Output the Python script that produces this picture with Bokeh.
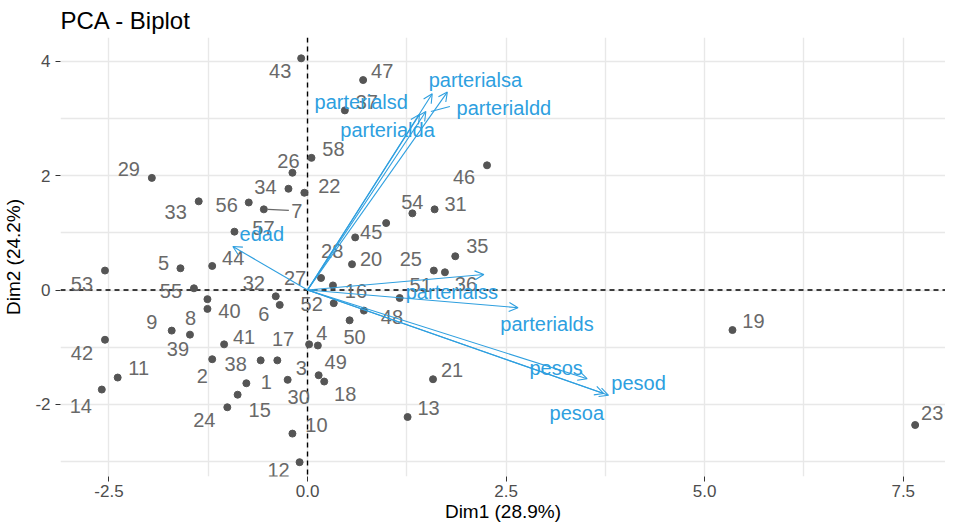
from bokeh.plotting import figure
from bokeh.models import (ColumnDataSource, Arrow, OpenHead, Span, FixedTicker,
                          PrintfTickFormatter, Range1d)
from bokeh.core.properties import value
from bokeh.embed import file_html
from bokeh.resources import INLINE

# ---------------- data ----------------
ind_labels = [str(i) for i in range(1, 59)]
ind_dim1 = [-0.77, -1.20, -0.38, 0.13, -1.60, -0.35, -0.55, -1.26, -1.71, -0.19,
            -2.39, -0.10, 1.26, -2.59, -0.88, 0.32, 0.02, 0.21, 5.35, 0.56,
            1.58, -0.04, 7.65, -1.01, 1.59, -0.19, 0.17, 0.60, -1.96, -0.25,
            1.60, -0.40, -1.37, -0.24, 1.86, 1.73, 0.47, -0.59, -1.48, -1.26,
            -1.05, -2.55, -0.08, -1.20, 0.99, 2.26, 0.70, 0.71, 0.14, 0.53,
            1.16, 0.33, -2.55, 1.32, -1.43, -0.74, -0.92, 0.05]
ind_dim2 = [-1.63, -1.21, -1.23, -0.97, 0.38, -0.26, 1.41, -0.16, -0.71, -2.51,
            -1.53, -3.01, -2.22, -1.74, -1.83, 0.08, -0.95, -1.60, -0.70, 0.45,
            -1.56, 1.70, -2.36, -2.05, 0.34, 2.05, 0.21, 0.92, 1.96, -1.57,
            1.41, -0.11, 1.55, 1.77, 0.59, 0.31, 3.14, -1.23, -0.78, -0.33,
            -0.95, -0.87, 4.05, 0.42, 1.17, 2.18, 3.67, -0.36, -1.49, -0.53,
            -0.14, -0.23, 0.34, 1.34, 0.03, 1.53, 1.02, 2.31]

var_names = ["edad", "parterialss", "parterialds", "pesos", "pesod", "pesoa",
             "parterialsa", "parterialsd", "parterialda", "parterialdd"]
var_dim1 = [-0.94, 2.22, 2.65, 3.52, 3.79, 3.73, 1.76, 1.57, 1.41, 1.49]
var_dim2 = [0.76, 0.27, -0.31, -1.55, -1.84, -1.81, 3.46, 3.43, 3.07, 3.12]

x_ticks = [-2.5, 0.0, 2.5, 5.0, 7.5]
y_ticks = [-2, 0, 2, 4]

# ---------------- label placement (screen px, repel-like) ----------------
ind_lab_dx = [20, -10, 24, 4, -17, -16, 33, -17, -20, 24,
              21, -21, 21, -21, 22, 23, -26, 21, 21, 19,
              19, 25, 17, -23, -23, -4, -26, -23, -23, 11,
              21, -22, -23, -23, 22, 21, 22, -25, -12, 22,
              20, -23, -21, 21, -15, -23, 19, 28, 17, 5,
              21, -22, -23, 0, -23, -22, 29, 22]
ind_lab_dy = [-1, 17, 8, -12, -5, 9, 2, 19, -9, -9,
              -10, 8, -9, 16, 15, 6, -5, 12, -9, -5,
              -9, -7, -12, 13, -12, -12, 0, 14, -9, 17,
              -5, -13, 11, -2, -10, 12, -8, 4, 14, 2,
              -7, 13, 13, -8, 9, 12, -9, 6, -13, 17,
              -13, 1, 13, -11, 3, 3, -4, -9]
var_lab_dx = [29, -32, 29, -31, 30, -27, 28, -71, -32, 78]
var_lab_dy = [-13, 17, 16, -11, -12, 19, -12, 8, 16, -4]

# ---------------- styling ----------------
FONT = "Liberation Sans"
BLUE = "#2E9FDF"
IND_COL = "#555555"
LAB_COL = "#696969"

X0, X1 = -3.110, 8.032
Y0, Y1 = -3.260, 4.414
FW, FH = 885, 439

p = figure(frame_width=FW, frame_height=FH, output_backend="svg",
           toolbar_location=None, x_range=Range1d(X0, X1), y_range=Range1d(Y0, Y1),
           min_border_left=52, min_border_right=0, min_border_top=35,
           min_border_bottom=40, title="PCA - Biplot")
p.outline_line_color = None
p.background_fill_color = "white"
p.border_fill_color = "white"

p.title.text_font = FONT
p.title.text_font_size = "24px"
p.title.text_font_style = "normal"
p.title.text_color = "black"
p.title.align = "left"
p.title.offset = 0
p.title.standoff = 8

p.xgrid.ticker = FixedTicker(ticks=[-2.5, -1.25, 0, 1.25, 2.5, 3.75, 5, 6.25, 7.5])
p.ygrid.ticker = FixedTicker(ticks=[-3, -2, -1, 0, 1, 2, 3, 4])
for g in (p.xgrid, p.ygrid):
    g.grid_line_color = "#e8e8e8"
    g.grid_line_width = 1.4

p.xaxis.ticker = FixedTicker(ticks=x_ticks)
p.xaxis.formatter = PrintfTickFormatter(format="%.1f")
p.yaxis.ticker = FixedTicker(ticks=y_ticks)
p.yaxis.formatter = PrintfTickFormatter(format="%d")
p.xaxis.axis_label = "Dim1 (28.9%)"
p.yaxis.axis_label = "Dim2 (24.2%)"
for ax in (p.xaxis, p.yaxis):
    ax.axis_line_color = None
    ax.major_tick_line_color = "#333333"
    ax.major_tick_out = 5
    ax.major_tick_in = 0
    ax.minor_tick_line_color = None
    ax.major_label_text_font = FONT
    ax.major_label_text_font_size = "17px"
    ax.major_label_text_color = "#4d4d4d"
    ax.axis_label_text_font = FONT
    ax.axis_label_text_font_size = "19px"
    ax.axis_label_text_font_style = "normal"
    ax.axis_label_text_color = "black"
p.xaxis.major_label_standoff = 3
p.xaxis.axis_label_standoff = 1
p.yaxis.major_label_standoff = 5
p.yaxis.axis_label_standoff = 8

# zero lines
p.add_layout(Span(location=0, dimension="height", line_color="black",
                  line_dash="5 4", line_width=1.4, level="underlay"))
p.add_layout(Span(location=0, dimension="width", line_color="black",
                  line_dash="5 4", line_width=1.4, level="underlay"))

# individuals
ind_src = ColumnDataSource(dict(x=ind_dim1, y=ind_dim2, label=ind_labels,
                                dx=ind_lab_dx, dy=ind_lab_dy))
p.scatter("x", "y", source=ind_src, size=7, color=IND_COL)

# repel segment for label "7"
sx = FW / (X1 - X0)
sy = FH / (Y1 - Y0)
i7 = ind_labels.index("7")
p.segment(x0=[ind_dim1[i7] + 4 / sx], y0=[ind_dim2[i7]],
          x1=[ind_dim1[i7] + 25 / sx], y1=[ind_dim2[i7] - 1 / sy],
          line_color=LAB_COL, line_width=1.2)

p.text("x", "y", text="label", x_offset="dx", y_offset="dy", source=ind_src,
       text_font=value(FONT), text_font_size=value("20px"), text_color=LAB_COL,
       text_align="center", text_baseline="middle")

# variables
var_src = ColumnDataSource(dict(x0=[0.0] * len(var_names), y0=[0.0] * len(var_names),
                                x=var_dim1, y=var_dim2, name=var_names,
                                dx=var_lab_dx, dy=var_lab_dy))
p.add_layout(Arrow(end=OpenHead(size=9, line_color=BLUE, line_width=1.1),
                   x_start="x0", y_start="y0", x_end="x", y_end="y",
                   source=var_src, line_color=BLUE, line_width=1.1, level="glyph"))

idd = var_names.index("parterialdd")
p.segment(x0=[var_dim1[idd] + 5 / sx], y0=[var_dim2[idd]],
          x1=[var_dim1[idd] + 24 / sx], y1=[var_dim2[idd] + 5 / sy],
          line_color=BLUE, line_width=1.1)

p.text("x", "y", text="name", x_offset="dx", y_offset="dy", source=var_src,
       text_font=value(FONT), text_font_size=value("20px"), text_color=BLUE,
       text_align="center", text_baseline="middle")

open("out.html", "w").write(file_html(p, INLINE))
